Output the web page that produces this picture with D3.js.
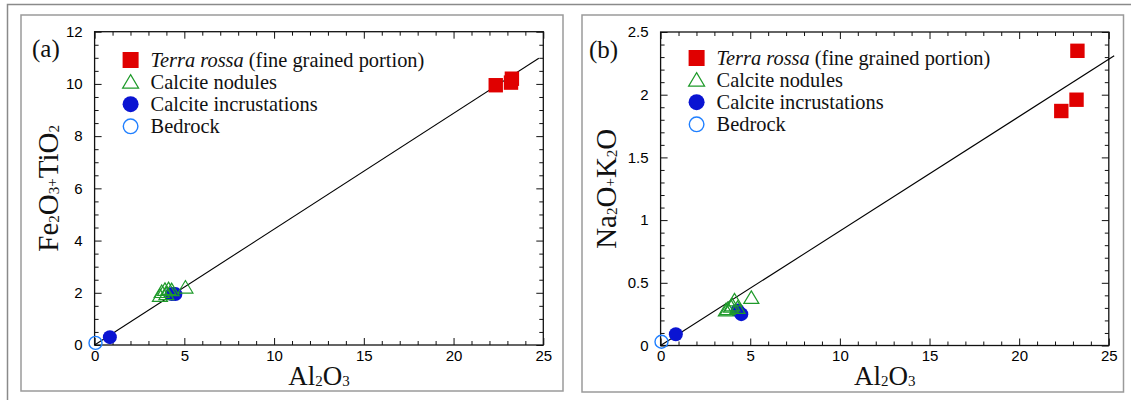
<!DOCTYPE html>
<html>
<head>
<meta charset="utf-8">
<script src="https://cdn.jsdelivr.net/npm/d3@7"></script>
<style>
  body { margin: 0; background: #fff; }
  svg { display: block; }
  .tick text { font-family: "Liberation Sans", Arial, sans-serif; font-size: 15px; fill: #000; }
  .serif { font-family: "Liberation Serif", "Times New Roman", serif; fill: #111; }
</style>
</head>
<body>
<script>
/*series values*/
var terraAl = [22.35, 23.2, 23.25];
var terraFeTi = [9.95, 10.05, 10.2];
var terraNaK = [1.87, 1.96, 2.35];

var nodulesAl = [3.64, 3.74, 3.92, 4.0, 4.12, 4.29, 5.06];
var nodulesFeTi = [1.88, 2.03, 2.11, 1.95, 2.14, 2.1, 2.2];
var nodulesNaK = [0.28, 0.29, 0.31, 0.32, 0.36, 0.30, 0.38];

var incrustAl = [0.85, 4.3, 4.5];
var incrustFeTi = [0.3, 1.95, 1.95];
var incrustNaK = [0.09, 0.28, 0.25];

var bedrockAl = [0.05];
var bedrockFeTi = [0.08];
var bedrockNaK = [0.03];

/*fitted lines (end points)*/
var fitAx = [0, 24.75], fitAy = [0, 10.98];
var fitBx = [0, 25.3], fitBy = [0, 2.31];

/*tick values*/
var xMajor = [0, 5, 10, 15, 20, 25];
var yMajorA = [0, 2, 4, 6, 8, 10, 12];
var yMajorB = [0, 0.5, 1, 1.5, 2, 2.5];

var legendNames = ["Terra rossa", "Calcite nodules", "Calcite incrustations", "Bedrock"];

var svg = d3.select("body").append("svg")
	.attr("width", 1131)
	.attr("height", 400);

/*outer grey border (top and left only are visible)*/
svg.append("path")
	.attr("d", "M7.5,400 L7.5,4.5 L1131,4.5")
	.attr("fill", "none")
	.attr("stroke", "#8a8a8a")
	.attr("stroke-width", 1.5);

function fmtB(d) { return d === 0 ? "0" : (d % 1 === 0 ? d3.format("d")(d) : d3.format(".1f")(d)); }

drawPanel({
	box: [21, 15, 563, 391],
	plot: { left: 94.6, right: 543.3, top: 31.7, bottom: 345 },
	yMax: 12, yMajor: yMajorA, yMinorStep: 0.5, yFormat: d3.format("d"),
	y: { terra: terraFeTi, nodules: nodulesFeTi, incrust: incrustFeTi, bedrock: bedrockFeTi },
	fit: [fitAx, fitAy],
	tag: "(a)", tagX: 32, tagY: 57,
	yTitle: [["Fe", 0], ["2", 1], ["O", 0], ["3", 1], ["+", 2], ["TiO", 0], ["2", 1]],
	yTitleX: 58, legendTop: 60
});

drawPanel({
	box: [582, 15, 1123.5, 392],
	plot: { left: 660.6, right: 1108.8, top: 32, bottom: 345.5 },
	yMax: 2.5, yMajor: yMajorB, yMinorStep: 0.1, yFormat: fmtB,
	y: { terra: terraNaK, nodules: nodulesNaK, incrust: incrustNaK, bedrock: bedrockNaK },
	fit: [fitBx, fitBy],
	tag: "(b)", tagX: 589, tagY: 58,
	yTitle: [["Na", 0], ["2", 1], ["O", 0], ["+", 2], ["K", 0], ["2", 1], ["O", 0]],
	yTitleX: 616, legendTop: 58
});

function drawPanel(p) {
	/*light grey frame around the panel*/
	svg.append("rect")
		.attr("x", p.box[0]).attr("y", p.box[1])
		.attr("width", p.box[2] - p.box[0]).attr("height", p.box[3] - p.box[1])
		.attr("fill", "none").attr("stroke", "#9a9a9a").attr("stroke-width", 1.5);

	var w = p.plot.right - p.plot.left, h = p.plot.bottom - p.plot.top;
	var g = svg.append("g").attr("transform", `translate(${p.plot.left},${p.plot.top})`);

	var x = d3.scaleLinear().domain([0, 25]).range([0, w]);
	var y = d3.scaleLinear().domain([0, p.yMax]).range([h, 0]);

	var xMinor = d3.range(0, 25.001, 1).filter(d => d % 5 !== 0);
	var yMinor = d3.range(0, p.yMax + 1e-6, p.yMinorStep)
		.map(d => +d.toFixed(3))
		.filter(d => !p.yMajor.some(m => Math.abs(m - d) < 1e-6));

	/*inward ticks on all four sides*/
	g.append("g").attr("transform", `translate(0,${h})`)
		.call(d3.axisBottom(x).tickValues(xMajor).tickSize(-7).tickPadding(5).tickFormat(d3.format("d")));
	g.append("g").attr("transform", `translate(0,${h})`)
		.call(d3.axisBottom(x).tickValues(xMinor).tickSize(-4).tickFormat(""));
	g.append("g")
		.call(d3.axisTop(x).tickValues(xMajor).tickSize(-7).tickFormat(""));
	g.append("g")
		.call(d3.axisTop(x).tickValues(xMinor).tickSize(-4).tickFormat(""));
	g.append("g")
		.call(d3.axisLeft(y).tickValues(p.yMajor).tickSize(-7).tickPadding(12).tickFormat(p.yFormat));
	g.append("g")
		.call(d3.axisLeft(y).tickValues(yMinor).tickSize(-4).tickFormat(""));
	g.append("g").attr("transform", `translate(${w},0)`)
		.call(d3.axisRight(y).tickValues(p.yMajor).tickSize(-7).tickFormat(""));
	g.append("g").attr("transform", `translate(${w},0)`)
		.call(d3.axisRight(y).tickValues(yMinor).tickSize(-4).tickFormat(""));
	g.selectAll(".domain").remove();
	g.selectAll(".tick line").attr("stroke", "#111");

	g.append("rect")
		.attr("width", w).attr("height", h)
		.attr("fill", "none").attr("stroke", "#111").attr("stroke-width", 1.3);

	/*regression line*/
	var fitPts = p.fit[0].map((d, i) => [d, p.fit[1][i]]);
	g.append("path")
		.datum(fitPts)
		.attr("d", d3.line().x(d => x(d[0])).y(d => y(d[1])))
		.attr("fill", "none").attr("stroke", "#000").attr("stroke-width", 1.1);

	/*points*/
	var bed = bedrockAl.map((d, i) => [d, p.y.bedrock[i]]);
	g.selectAll(".bed").data(bed).enter().append("circle")
		.attr("cx", d => x(d[0])).attr("cy", d => y(d[1])).attr("r", 6.5)
		.attr("fill", "none").attr("stroke", "#1f7fff").attr("stroke-width", 1.4);

	var inc = incrustAl.map((d, i) => [d, p.y.incrust[i]]);
	g.selectAll(".inc").data(inc).enter().append("circle")
		.attr("cx", d => x(d[0])).attr("cy", d => y(d[1])).attr("r", 7)
		.attr("fill", "#0a14d2");

	var nod = nodulesAl.map((d, i) => [d, p.y.nodules[i]]);
	g.selectAll(".nod").data(nod).enter().append("path")
		.attr("transform", d => `translate(${x(d[0])},${y(d[1])})`)
		.attr("d", "M0,-7 L7.5,5.5 L-7.5,5.5 Z")
		.attr("fill", "none").attr("stroke", "#1e9a2a").attr("stroke-width", 1.2);

	var ter = terraAl.map((d, i) => [d, p.y.terra[i]]);
	g.selectAll(".ter").data(ter).enter().append("rect")
		.attr("x", d => x(d[0]) - 7.2).attr("y", d => y(d[1]) - 7.2)
		.attr("width", 14.4).attr("height", 14.4)
		.attr("fill", "#e00000");

	/*legend*/
	var lg = g.append("g").attr("transform", `translate(36,${p.legendTop - p.plot.top})`);
	var rowH = 22.1;
	lg.append("rect").attr("x", -8).attr("y", -8).attr("width", 16).attr("height", 16).attr("fill", "#e00000");
	lg.append("path").attr("transform", `translate(0,${rowH})`)
		.attr("d", "M0,-7.5 L8,6 L-8,6 Z")
		.attr("fill", "none").attr("stroke", "#1e9a2a").attr("stroke-width", 1.2);
	lg.append("circle").attr("cy", rowH * 2).attr("r", 8).attr("fill", "#0a14d2");
	lg.append("circle").attr("cy", rowH * 3).attr("r", 7.3)
		.attr("fill", "none").attr("stroke", "#1f7fff").attr("stroke-width", 1.4);

	var t0 = lg.append("text").attr("class", "serif").attr("x", 20).attr("y", 0).attr("dy", "0.35em")
		.style("font-size", "20.4px");
	t0.append("tspan").style("font-style", "italic").text(legendNames[0]);
	t0.append("tspan").text(" (fine grained portion)");
	legendNames.slice(1).forEach(function (name, i) {
		lg.append("text").attr("class", "serif")
			.attr("x", 20).attr("y", rowH * (i + 1)).attr("dy", "0.35em")
			.style("font-size", "20.4px")
			.text(name);
	});

	/*panel tag*/
	svg.append("text").attr("class", "serif")
		.attr("x", p.tagX).attr("y", p.tagY)
		.style("font-size", "25px")
		.text(p.tag);

	/*x axis title Al2O3*/
	var xt = svg.append("text").attr("class", "serif")
		.attr("x", p.plot.left + w / 2).attr("y", 385)
		.attr("text-anchor", "middle")
		.style("font-size", "27px");
	subText(xt, [["Al", 0], ["2", 1], ["O", 0], ["3", 1]]);

	/*y axis title*/
	var yt = svg.append("text").attr("class", "serif")
		.attr("transform", `translate(${p.yTitleX},${p.plot.top + h / 2}) rotate(-90)`)
		.attr("text-anchor", "middle")
		.style("font-size", "29px");
	subText(yt, p.yTitle);
}

/*write text pieces, small pieces are subscripts (1) or a small plus (2)*/
function subText(sel, parts) {
	parts.forEach(function (pt) {
		var s = sel.append("tspan").text(pt[0]);
		if (pt[1] === 1) s.style("font-size", "15px").attr("dy", 1);
		else if (pt[1] === 2) s.style("font-size", "15px").attr("dy", -1);
	});
	/*reset baseline after each shifted piece*/
	var prev = 0;
	sel.selectAll("tspan").each(function () {
		var el = d3.select(this);
		var cur = +el.attr("dy") || 0;
		el.attr("dy", cur - prev);
		prev = cur;
	});
}
</script>
</body>
</html>
